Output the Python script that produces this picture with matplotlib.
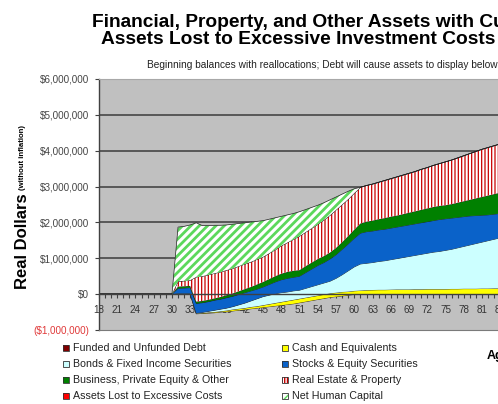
import matplotlib
matplotlib.use("Agg")
import matplotlib.pyplot as plt
import numpy as np
from matplotlib.patches import Rectangle
from matplotlib.ticker import FixedLocator, MultipleLocator

plt.rcParams['font.family'] = ['Liberation Sans', 'DejaVu Sans']
plt.rcParams['hatch.linewidth'] = 1.0

# ---------------- data (values in $ thousands, real dollars) ----------------
ages = list(range(18, 86))
pre = [0] * 13  # ages 18-30

debt = pre + [0, 0, 0, -550, -540, -530, -520, -500, -490, -470, -450, -430, -410, -390, -370,
              -350, -330, -310, -290, -270, -240, -210, -180, -150, -120, -90, -70, -50, -30, -10] + [0] * 25
cash = pre + [10, 10, 10, 10, 10, 20, 20, 20, 30, 40, 40, 40, 50, 50, 60,
              70, 80, 90, 100, 110, 110, 110, 110, 110, 110, 110, 110, 110, 100, 100,
              100, 110, 115, 120, 120, 125, 130, 130, 130, 135, 135, 140, 140, 140, 140,
              145, 145, 150, 150, 150, 155, 155, 160, 160, 160]
bonds = pre + [10, 10, 10, 10, 20, 30, 50, 60, 70, 80, 110, 140, 170, 210, 240,
               250, 260, 260, 250, 250, 240, 260, 280, 300, 320, 340, 400, 480, 580, 670,
               740, 750, 765, 790, 810, 835, 860, 890, 920, 945, 975, 1000, 1030, 1050, 1080,
               1105, 1145, 1180, 1220, 1260, 1295, 1335, 1370, 1410, 1450]
stocks = pre + [140, 150, 160, 270, 270, 270, 280, 280, 290, 290, 290, 290, 280, 270, 270,
                300, 330, 360, 380, 380, 390, 440, 490, 540, 570, 620, 660, 710, 750, 800,
                860, 880, 880, 880, 880, 880, 880, 880, 880, 880, 880, 880, 880, 890, 880,
                870, 850, 830, 810, 780, 750, 720, 700, 680, 660]
business = pre + [50, 50, 50, 50, 50, 50, 50, 60, 70, 80, 90, 100, 110, 130, 140,
                  150, 160, 170, 180, 180, 170, 180, 180, 180, 180, 180, 190, 200, 220, 240,
                  270, 280, 290, 300, 310, 320, 320, 330, 340, 350, 360, 370, 380, 380, 380,
                  390, 410, 430, 450, 480, 510, 540, 560, 580, 600]
real_estate = pre + [150, 150, 160, 690, 690, 700, 700, 700, 700, 700, 700, 700, 700, 700, 700,
                     720, 740, 780, 820, 880, 950, 950, 960, 970, 1010, 1040, 1060, 1050, 1030, 1020,
                     1010, 1010, 1020, 1030, 1050, 1060, 1080, 1090, 1100, 1110, 1130, 1140, 1160, 1180, 1210,
                     1230, 1250, 1270, 1290, 1310, 1330, 1340, 1350, 1360, 1370]
lost_costs = [0] * 68
human_capital = pre + [1510, 1520, 1540, 1510, 1410, 1370, 1340, 1300, 1260, 1230, 1190, 1150, 1110, 1060, 1010,
                       950, 890, 820, 770, 720, 680, 630, 580, 530, 480, 430, 360, 290, 220, 120] + [0] * 25

legend_labels = ["Funded and Unfunded Debt", "Cash and Equivalents",
                 "Bonds & Fixed Income Securities", "Stocks & Equity Securities",
                 "Business, Private Equity & Other", "Real Estate & Property",
                 "Assets Lost to Excessive Costs", "Net Human Capital"]

tick_ages = list(range(18, 100, 3))
ytick_vals = [-1e6, 0, 1e6, 2e6, 3e6, 4e6, 5e6, 6e6]
ytick_labels = ["($1,000,000)", "$0", "$1,000,000", "$2,000,000", "$3,000,000",
                "$4,000,000", "$5,000,000", "$6,000,000"]

title1 = "Financial, Property, and Other Assets with Current Allocations"
title2 = "Assets Lost to Excessive Investment Costs"
subtitle = "Beginning balances with reallocations; Debt will cause assets to display below $0"

# ---------------- styles ----------------
styles = [
    dict(face='#800000', hatch=None, hc=None, hlw=1.0),
    dict(face='#FFFF00', hatch=None, hc=None, hlw=1.0),
    dict(face='#CCFFFF', hatch=None, hc=None, hlw=1.0),
    dict(face='#0A62C9', hatch=None, hc=None, hlw=1.0),
    dict(face='#008000', hatch=None, hc=None, hlw=1.0),
    dict(face='white', hatch='|||||', hc='#C80000', hlw=0.9),
    dict(face='#FF0000', hatch=None, hc=None, hlw=1.0),
    dict(face='white', hatch='////', hc='#5CD85C', hlw=2.0),
]
legend_hatch = [None, None, None, None, None, '||||||', None, '////']

W, H = 498, 404
fig = plt.figure(figsize=(W / 100, H / 100), dpi=100)
fig.patch.set_facecolor('white')


def fx(px):
    return px / W


def fy(py):
    return 1 - py / H


x_right = 99 + (100 - 18) * 6.08
ax = fig.add_axes([fx(99), fy(330), fx(x_right) - fx(99), fy(79) - fy(330)])
ax.set_facecolor('#C0C0C0')
ax.set_xlim(18, 100)
ax.set_ylim(-1e6, 6e6)
ax.set_axisbelow(True)

for gv in ytick_vals[2:-1]:
    ax.axhline(gv, color='#3C3C3C', lw=1.1, zorder=0.6)

series = [debt, cash, bonds, stocks, business, real_estate, lost_costs, human_capital]
tops = np.cumsum(np.array(series, dtype=float) * 1000.0, axis=0)
base = np.zeros(len(ages))
for i, st in enumerate(styles):
    top = tops[i]
    z = 1 + i * 0.1
    plt.rcParams['hatch.linewidth'] = st['hlw']
    if st['hatch']:
        ax.fill_between(ages, base, top, facecolor=st['face'], edgecolor=st['hc'],
                        hatch=st['hatch'], linewidth=0, zorder=z)
    else:
        ax.fill_between(ages, base, top, facecolor=st['face'], linewidth=0, zorder=z)
    ax.plot(ages, top, color='#202020', lw=0.5, zorder=z + 0.05)
    base = top
plt.rcParams['hatch.linewidth'] = 1.0

# axes styling
ax.spines['right'].set_visible(False)
ax.spines['top'].set_color('#A8A8A8')
ax.spines['top'].set_linewidth(0.8)
ax.spines['left'].set_color('#404040')
ax.spines['left'].set_linewidth(1.0)
ax.spines['bottom'].set_position(('data', 0))
ax.spines['bottom'].set_color('#404040')
ax.spines['bottom'].set_linewidth(1.0)
ax.spines['bottom'].set_zorder(3)
ax.axhline(-1e6, color='#7A7A7A', lw=0.8, zorder=3, clip_on=False)

ax.xaxis.set_major_locator(FixedLocator(tick_ages))
ax.xaxis.set_minor_locator(MultipleLocator(1))
ax.set_xticklabels([str(a) for a in tick_ages])
ax.tick_params(axis='x', which='both', direction='out', length=3, width=0.8,
               color='#404040', labelsize=7.1, labelcolor='#333333', pad=4.5)

ax.set_yticks(ytick_vals)
ax.set_yticklabels(ytick_labels)
ax.tick_params(axis='y', direction='out', length=3, width=0.8, color='#404040',
               labelsize=7.1, labelcolor='#444444', pad=4)
ax.get_yticklabels()[0].set_color('#E03838')

# titles
fig.text(fx(92), fy(27), title1, fontsize=13.8, fontweight='bold', va='baseline', ha='left')
fig.text(fx(101), fy(44), title2, fontsize=13.8, fontweight='bold', va='baseline', ha='left')
fig.text(fx(147), fy(67.5), subtitle, fontsize=7.3, va='baseline', ha='left', color='#222222')

# y-axis title
fig.text(fx(22.5), fy(241.5), "Real Dollars", fontsize=12, fontweight='bold', rotation=90,
         ha='center', va='center')
fig.text(fx(22.5), fy(157.5), "(without inflation)", fontsize=5.6, fontweight='bold', rotation=90,
         ha='center', va='center')

# x-axis title (cropped on the right)
fig.text(fx(487), fy(359), "Age", fontsize=9, fontweight='bold', va='baseline', ha='left')

# legend (row-wise, two columns)
rows_y = [348, 364, 380, 396]
cols = [(63, 73), (282, 292)]
for i, lab in enumerate(legend_labels):
    r, c = divmod(i, 2)
    mx, tx = cols[c]
    yc = rows_y[r]
    st = styles[i]
    rect = Rectangle((fx(mx), fy(yc + 3)), 6 / W, 6 / H, transform=fig.transFigure,
                     facecolor=st['face'], edgecolor=st['hc'] if st['hc'] else '#333333',
                     hatch=legend_hatch[i], linewidth=0)
    fig.add_artist(rect)
    border = Rectangle((fx(mx), fy(yc + 3)), 6 / W, 6 / H, transform=fig.transFigure,
                       facecolor='none', edgecolor='#333333', linewidth=0.6)
    fig.add_artist(border)
    fig.text(fx(tx), fy(yc), lab, fontsize=7.7, va='center', ha='left', color='#222222')

fig.savefig('out.png', dpi=100)
